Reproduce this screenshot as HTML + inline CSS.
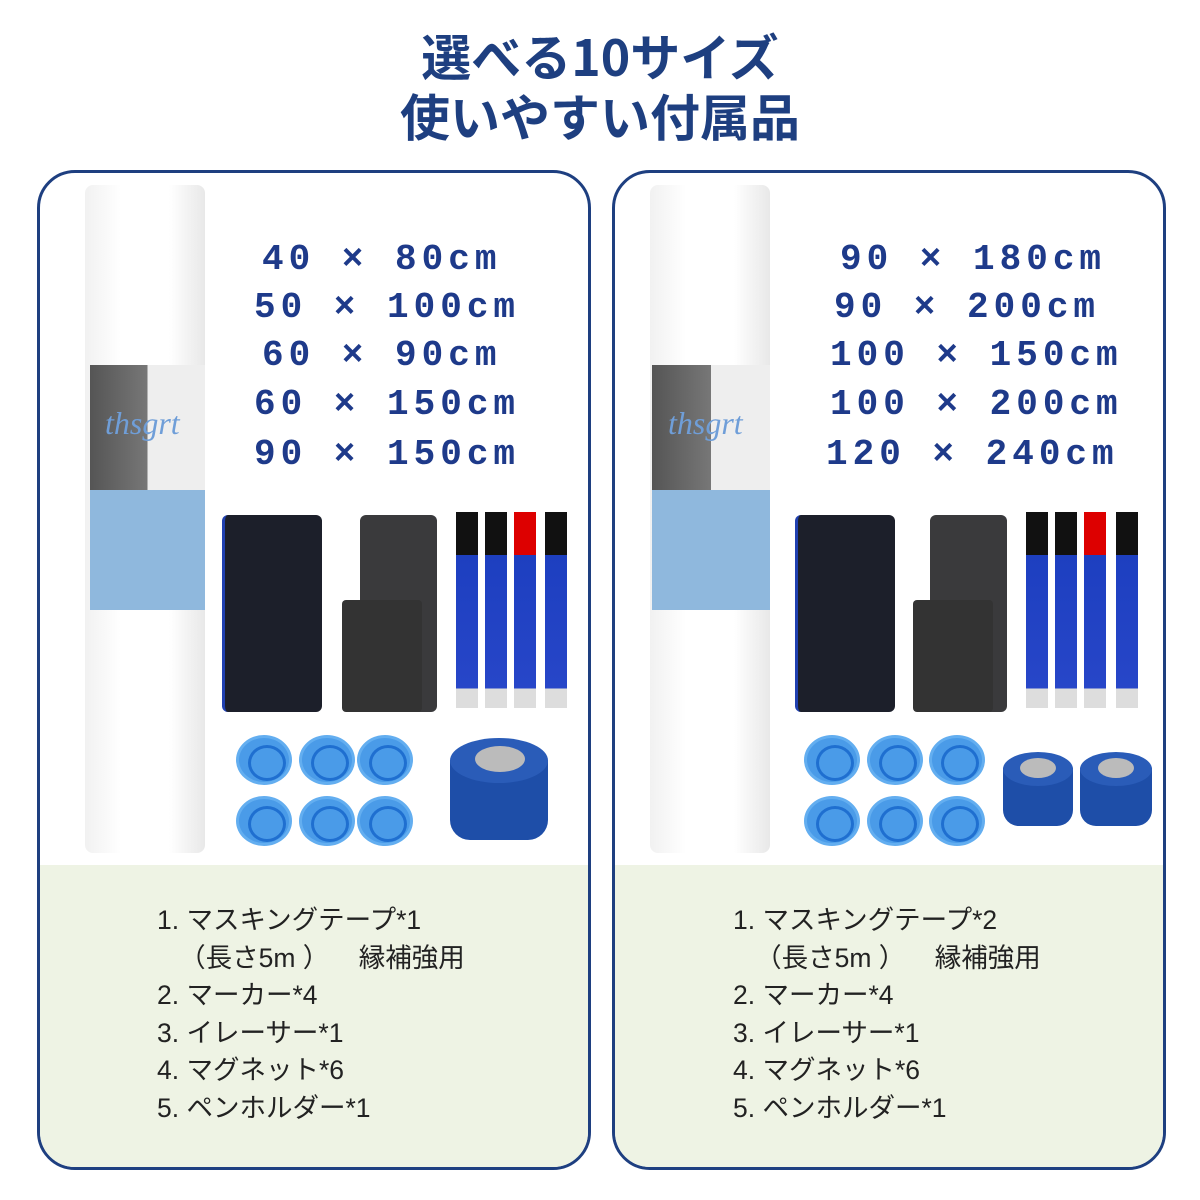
<!DOCTYPE html>
<html><head><meta charset="utf-8"><style>
*{margin:0;padding:0;box-sizing:border-box}
body{width:1200px;height:1200px;background:#fff;position:relative;overflow:hidden;font-family:"Liberation Sans","Noto Sans CJK JP",sans-serif}
.a{position:absolute}
.title{left:0;width:1200px;text-align:center;color:#1e3f80;font-weight:bold;font-size:50px;font-family:"Noto Sans CJK JP",sans-serif;line-height:60px}
.card{border:3px solid #1e3f80;border-radius:38px;overflow:hidden;background:#fff}
.green{background:#eef3e4}
.roll{background:linear-gradient(90deg,#f1f1f1,#fff 30%,#fff 70%,#e8e8e8);border-radius:8px}
.sz{color:#1e3a8a;font-weight:bold;font-size:36px;letter-spacing:5px;white-space:nowrap;font-family:"Liberation Mono",monospace;line-height:40px}
.list{color:#222;font-size:26.5px;line-height:37.5px;white-space:pre;font-family:"Liberation Sans","Noto Sans CJK JP",sans-serif}
.mag{width:56px;height:50px;border-radius:50%;background:#4a9be8;border:3px solid #63aef0}
.mag::after{content:"";position:absolute;left:9px;top:7px;width:32px;height:30px;border-radius:50%;border:3px solid #1f6fd0}
.pen{width:22px;height:196px;background:linear-gradient(#111 0,#111 22%,#1d3fc0 22%,#2746c8 90%,#ddd 90%)}
</style></head><body>
<div class="a title" style="top:25px">選べる10サイズ</div>
<div class="a title" style="top:85px">使いやすい付属品</div>

<div class="a card" style="left:37px;top:170px;width:554px;height:1000px">
 <div class="a green" style="left:0;top:692px;width:554px;height:308px"></div>
</div>
<div class="a roll" style="left:85px;top:185px;width:120px;height:668px"></div>
<div class="a" style="left:90px;top:365px;width:115px;height:125px;background:linear-gradient(90deg,#555 0,#777 50%,#eee 50%)"></div>
<div class="a" style="left:105px;top:405px;color:#6f9ed8;font-style:italic;font-size:32px;font-family:'Liberation Serif',serif">thsgrt</div>
<div class="a" style="left:90px;top:490px;width:115px;height:120px;background:#8fb8dd"></div>
<div class="a sz" style="left:262px;top:240px">40 × 80cm</div>
<div class="a sz" style="left:254px;top:288px">50 × 100cm</div>
<div class="a sz" style="left:262px;top:336px">60 × 90cm</div>
<div class="a sz" style="left:254px;top:385px">60 × 150cm</div>
<div class="a sz" style="left:254px;top:435px">90 × 150cm</div>
<div class="a" style="left:222px;top:515px;width:100px;height:197px;background:#1c1f2a;border-left:3px solid #2040b0;border-radius:6px"></div>
<div class="a" style="left:360px;top:515px;width:77px;height:197px;background:#3a3a3c;border-radius:6px"></div>
<div class="a" style="left:342px;top:600px;width:80px;height:112px;background:#333;border-radius:4px"></div>
<div class="a pen" style="left:456px;top:512px"></div>
<div class="a pen" style="left:485px;top:512px"></div>
<div class="a pen" style="left:514px;top:512px;background:linear-gradient(#d00 0,#d00 22%,#1d3fc0 22%,#2746c8 90%,#ddd 90%)"></div>
<div class="a pen" style="left:545px;top:512px"></div>
<div class="a mag" style="left:236px;top:735px"></div><div class="a mag" style="left:299px;top:735px"></div><div class="a mag" style="left:357px;top:735px"></div>
<div class="a mag" style="left:236px;top:796px"></div><div class="a mag" style="left:299px;top:796px"></div><div class="a mag" style="left:357px;top:796px"></div>
<div class="a" style="left:450px;top:760px;width:98px;height:80px;background:#1e4ea8;border-radius:0 0 20px 20px"></div>
<div class="a" style="left:450px;top:738px;width:98px;height:45px;border-radius:50%;background:#2a5cb8"></div>
<div class="a" style="left:475px;top:746px;width:50px;height:26px;border-radius:50%;background:#bbb"></div>
<div class="a list" style="left:157px;top:902px">1. マスキングテープ*1
   （長さ5m ）    縁補強用
2. マーカー*4
3. イレーサー*1
4. マグネット*6
5. ペンホルダー*1</div>

<div class="a card" style="left:612px;top:170px;width:554px;height:1000px">
 <div class="a green" style="left:0;top:692px;width:554px;height:308px"></div>
</div>
<div class="a roll" style="left:650px;top:185px;width:120px;height:668px"></div>
<div class="a" style="left:652px;top:365px;width:118px;height:125px;background:linear-gradient(90deg,#555 0,#777 50%,#eee 50%)"></div>
<div class="a" style="left:668px;top:405px;color:#6f9ed8;font-style:italic;font-size:32px;font-family:'Liberation Serif',serif">thsgrt</div>
<div class="a" style="left:652px;top:490px;width:118px;height:120px;background:#8fb8dd"></div>
<div class="a sz" style="left:840px;top:240px">90 × 180cm</div>
<div class="a sz" style="left:834px;top:288px">90 × 200cm</div>
<div class="a sz" style="left:830px;top:336px">100 × 150cm</div>
<div class="a sz" style="left:830px;top:385px">100 × 200cm</div>
<div class="a sz" style="left:826px;top:435px">120 × 240cm</div>
<div class="a" style="left:795px;top:515px;width:100px;height:197px;background:#1c1f2a;border-left:3px solid #2040b0;border-radius:6px"></div>
<div class="a" style="left:930px;top:515px;width:77px;height:197px;background:#3a3a3c;border-radius:6px"></div>
<div class="a" style="left:913px;top:600px;width:80px;height:112px;background:#333;border-radius:4px"></div>
<div class="a pen" style="left:1026px;top:512px"></div>
<div class="a pen" style="left:1055px;top:512px"></div>
<div class="a pen" style="left:1084px;top:512px;background:linear-gradient(#d00 0,#d00 22%,#1d3fc0 22%,#2746c8 90%,#ddd 90%)"></div>
<div class="a pen" style="left:1116px;top:512px"></div>
<div class="a mag" style="left:804px;top:735px"></div><div class="a mag" style="left:867px;top:735px"></div><div class="a mag" style="left:929px;top:735px"></div>
<div class="a mag" style="left:804px;top:796px"></div><div class="a mag" style="left:867px;top:796px"></div><div class="a mag" style="left:929px;top:796px"></div>
<div class="a" style="left:1003px;top:768px;width:70px;height:58px;background:#1e4ea8;border-radius:0 0 16px 16px"></div>
<div class="a" style="left:1003px;top:752px;width:70px;height:34px;border-radius:50%;background:#2a5cb8"></div>
<div class="a" style="left:1020px;top:758px;width:36px;height:20px;border-radius:50%;background:#bbb"></div>
<div class="a" style="left:1080px;top:768px;width:72px;height:58px;background:#1e4ea8;border-radius:0 0 16px 16px"></div>
<div class="a" style="left:1080px;top:752px;width:72px;height:34px;border-radius:50%;background:#2a5cb8"></div>
<div class="a" style="left:1098px;top:758px;width:36px;height:20px;border-radius:50%;background:#bbb"></div>
<div class="a list" style="left:733px;top:902px">1. マスキングテープ*2
   （長さ5m ）    縁補強用
2. マーカー*4
3. イレーサー*1
4. マグネット*6
5. ペンホルダー*1</div>
</body></html>
